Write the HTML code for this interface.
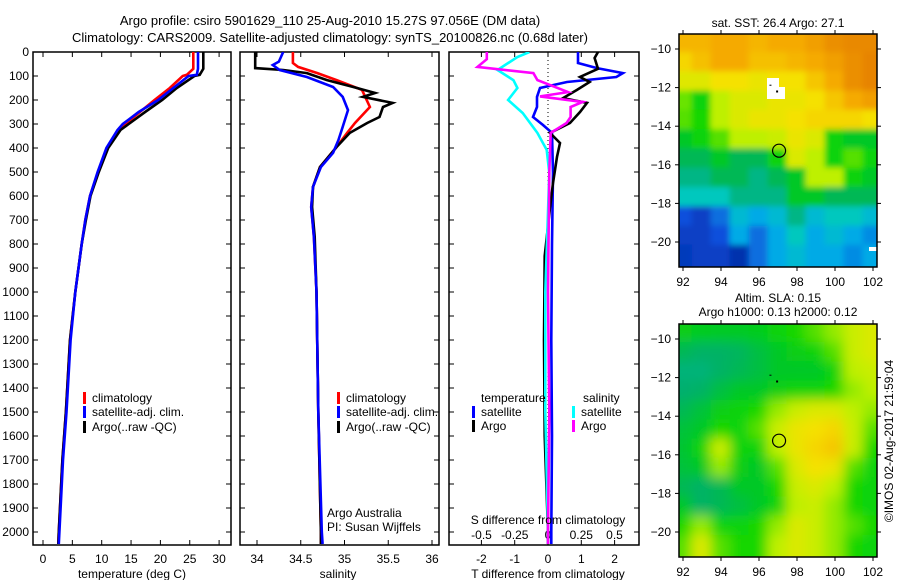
<!DOCTYPE html>
<html><head><meta charset="utf-8"><style>
html,body{margin:0;padding:0;background:#fff}
svg{display:block;font-family:"Liberation Sans",Arial,sans-serif;font-size:12px}
</style></head><body>
<svg id="c" width="900" height="580" viewBox="0 0 900 580">
<defs>
<clipPath id="cp1"><rect x="33" y="52" width="198" height="493"/></clipPath>
<clipPath id="cp2"><rect x="240" y="52" width="199" height="493"/></clipPath>
<clipPath id="cp3"><rect x="449" y="52" width="190" height="493"/></clipPath>
<clipPath id="cm1"><rect x="679" y="34" width="198" height="233"/></clipPath>
<clipPath id="cm2"><rect x="679" y="324" width="198" height="233"/></clipPath>
<filter id="blur"><feGaussianBlur stdDeviation="6"/></filter>
<filter id="blur1"><feGaussianBlur stdDeviation="3"/></filter>
</defs>
<text x="330" y="25" text-anchor="middle" font-size="13">Argo profile: csiro 5901629_110 25-Aug-2010 15.27S 97.056E (DM data)</text>
<text x="330" y="42" text-anchor="middle" font-size="13">Climatology: CARS2009. Satellite-adjusted climatology: synTS_20100826.nc (0.68d later)</text>
<g id="g"></g>
</svg>
<script>
// ---------- profile data ----------
const depthTicks = [0,100,200,300,400,500,600,700,800,900,1000,1100,1200,1300,1400,1500,1600,1700,1800,1900,2000];
const tempTicks = [0,5,10,15,20,25,30];
const salTicks = [34,34.5,35,35.5,36];
const salTickLabels = ["34","34.5","35","35.5","36"];
const dTTicks = [-2,-1,0,1,2];
const dSTicks = [-0.5,-0.25,0,0.25,0.5];
const dSTickLabels = ["-0.5","-0.25","0","0.25","0.5"];

const tDepth = [0,70,95,100,150,200,250,300,325,400,500,600,700,800,1000,1200,1500,1700,2000,2050];
const tClim = [25.6,25.6,24.5,23.8,21.6,19,16.5,14,12.8,10.9,9.4,8,7.2,6.6,5.5,4.6,3.9,3.3,2.7,2.6];
const tSat = [26.4,26.4,26.2,24.8,22.2,19.6,16.3,13.6,12.7,10.8,9.3,8,7.2,6.6,5.5,4.7,4,3.4,2.8,2.7];
const tArgo = [27.3,27.3,26.7,25.8,22.8,20.3,17.4,14.6,13.2,11.1,9.5,8.1,7.3,6.6,5.5,4.6,3.9,3.3,2.7,2.6];

const sArgoDepth = [0,67,75,88,117,146,171,187,212,229,271,296,337,396,479,562,646,771,1000,1500,2000,2050];
const sArgo = [33.98,33.98,34.30,34.57,34.80,35.10,35.35,35.21,35.55,35.44,35.40,35.26,35.06,34.91,34.72,34.64,34.63,34.66,34.68,34.70,34.73,34.73];
const sClimDepth = [0,46,62,88,117,158,229,296,337,396,479,562,646,771,1000,1500,2000,2050];
const sClim = [34.41,34.41,34.47,34.69,34.91,35.2,35.29,35.12,35.03,34.91,34.72,34.64,34.62,34.65,34.68,34.70,34.73,34.73];
const sSatDepth = [0,40,54,75,104,146,187,242,312,367,420,479,562,646,771,1000,1500,2000,2050];
const sSat = [34.3,34.25,34.18,34.26,34.57,34.87,34.98,35.04,34.98,34.93,34.87,34.73,34.64,34.62,34.65,34.68,34.70,34.74,34.75];

const dTSatDepth = [0,46,67,88,104,125,150,187,229,271,304,337,504,800,1200,1600,2000,2050];
const dTSat = [0.9,0.9,1.47,2.25,2.05,0.57,-0.24,-0.33,-0.33,-0.45,-0.15,0.12,0.15,0.12,0.1,0.12,0.1,0.1];
const dTArgoDepth = [0,25,70,104,125,158,192,212,250,296,337,379,437,546,650,850,1200,1600,2000,2050];
const dTArgo = [1.5,1.4,1.5,0.96,1.25,0.87,0.45,1.17,0.96,0.66,0.06,0.36,0.27,0.15,0.06,-0.1,-0.12,-0.1,0,0];
const dSArgoDepth = [0,30,62,88,117,167,185,208,229,271,296,337,500,1000,1500,2000,2050];
const dSArgo = [-0.46,-0.46,-0.53,-0.11,-0.08,0.15,-0.06,0.26,0.17,0.17,0.14,0.02,0.01,0,0.01,0,0];
const dSSatDepth = [0,21,75,117,150,200,254,337,408,504,1000,1500,2000,2050];
const dSSat = [-0.14,-0.23,-0.38,-0.26,-0.23,-0.3,-0.19,-0.08,-0.01,0.01,-0.02,-0.02,0,0];

// ---------- map data (rows north->south, cols 92..102 lon) ----------
const mapLons = [92,93,94,95,96,97,98,99,100,101,102];
const mapLats = [-9.7,-10.7,-11.7,-12.7,-13.7,-14.7,-15.7,-16.7,-17.7,-18.7,-19.7,-20.7];
const sstGrid = [
[.88,.88,.9,.9,.88,.9,.9,.92,.95,.96,.96],
[.82,.86,.9,.9,.86,.86,.88,.9,.92,.95,.97],
[.76,.76,.8,.8,.78,.8,.8,.85,.9,.95,.97],
[.66,.6,.7,.75,.75,.78,.78,.8,.85,.9,.92],
[.65,.62,.7,.75,.78,.78,.8,.82,.82,.82,.8],
[.55,.6,.65,.7,.7,.72,.78,.75,.6,.55,.55],
[.5,.5,.55,.5,.5,.6,.75,.7,.6,.65,.6],
[.45,.45,.5,.5,.45,.5,.55,.7,.7,.6,.55],
[.4,.4,.4,.45,.45,.45,.55,.55,.5,.5,.5],
[.15,.1,.2,.35,.3,.35,.45,.35,.4,.4,.35],
[.1,.1,.15,.3,.2,.3,.4,.3,.35,.3,.25],
[.08,.1,.1,.05,.2,.3,.35,.3,.3,.25,.3]];
const slaGrid = [
[.58,.57,.56,.56,.57,.6,.62,.65,.68,.72,.75],
[.5,.48,.48,.49,.52,.55,.58,.6,.65,.72,.75],
[.46,.46,.48,.5,.52,.55,.55,.55,.6,.7,.72],
[.47,.48,.52,.55,.55,.58,.6,.6,.62,.68,.7],
[.5,.53,.58,.6,.62,.68,.72,.75,.75,.7,.68],
[.53,.55,.62,.6,.65,.72,.78,.8,.82,.72,.65],
[.54,.6,.72,.6,.6,.7,.78,.82,.85,.72,.62],
[.53,.55,.68,.58,.55,.65,.75,.8,.78,.65,.6],
[.5,.48,.5,.55,.55,.62,.72,.75,.7,.62,.6],
[.55,.48,.5,.52,.55,.6,.7,.72,.68,.62,.6],
[.62,.68,.6,.6,.62,.68,.75,.72,.68,.65,.62],
[.65,.75,.65,.62,.62,.7,.75,.72,.68,.62,.6]];
const lonTicks = [92,94,96,98,100,102];
const latTicks = [-10,-12,-14,-16,-18,-20];
const argoLon = 97.056, argoLat = -15.27;

const NS = "http://www.w3.org/2000/svg";
const g = document.getElementById('g');
function el(tag, attrs, parent) {
  const e = document.createElementNS(NS, tag);
  for (const k in attrs) e.setAttribute(k, attrs[k]);
  (parent || g).appendChild(e);
  return e;
}
function txt(x, y, s, anchor, parent) {
  const t = el('text', {x: x, y: y, 'text-anchor': anchor || 'middle'}, parent);
  t.textContent = s;
  return t;
}

const top0 = 52, bot0 = 545;
const yD = d => top0 + d * 0.24;
const xT = t => 43 + t * 5.87;
const xS = s => 257 + (s - 34) * 87.5;
const xdT = v => 548 + v * 33.3;
const xdS = v => 548 + v * 133;

function panelBox(x0, x1, name) {
  const r = el('rect', {x: x0, y: top0, width: x1 - x0, height: bot0 - top0, fill: 'none', stroke: '#000', 'stroke-width': 1.5});
  
  
  depthTicks.forEach(d => {
    el('line', {x1: x0, x2: x0 + 5, y1: yD(d), y2: yD(d), stroke: '#000'});
    el('line', {x1: x1, x2: x1 - 5, y1: yD(d), y2: yD(d), stroke: '#000'});
  });
}
function series(depths, vals, xf, color, clip, name) {
  const pts = depths.map((d, i) => xf(vals[i]).toFixed(1) + ',' + yD(d).toFixed(1)).join(' ');
  const p = el('polyline', {points: pts, fill: 'none', stroke: color, 'stroke-width': 2.6, 'stroke-linejoin': 'miter', 'clip-path': 'url(#' + clip + ')'});
  
  
}
function legendEntry(x, y, color, label, name) {
  const gg = el('g', {});
  
  
  el('rect', {x: x, y: y - 10, width: 3, height: 12, fill: color}, gg);
  txt(x + 9, y, label, 'start', gg);
}

// Panel 1 - temperature
panelBox(33, 231, 'temperature-panel');
depthTicks.forEach(d => {
  const t = txt(29, yD(d) + 4, String(d), 'end');
  
  
});
tempTicks.forEach(v => {
  el('line', {x1: xT(v), x2: xT(v), y1: bot0, y2: bot0 - 5, stroke: '#000'});
  el('line', {x1: xT(v), x2: xT(v), y1: top0, y2: top0 + 5, stroke: '#000'});
  const t = txt(xT(v), 563, String(v));
  
  
});
const xt1 = txt(132, 578, 'temperature (deg C)');


series(tDepth, tClim, xT, '#f00', 'cp1', 'temp-climatology-line');
series(tDepth, tArgo, xT, '#000', 'cp1', 'temp-argo-line');
series(tDepth, tSat, xT, '#00f', 'cp1', 'temp-satellite-line');
legendEntry(83, 402, '#f00', 'climatology', 'legend-climatology');
legendEntry(83, 416, '#00f', 'satellite-adj. clim.', 'legend-satellite-adj');
legendEntry(83, 431, '#000', 'Argo(..raw -QC)', 'legend-argo');

// Panel 2 - salinity
panelBox(240, 439, 'salinity-panel');
salTicks.forEach((v, i) => {
  el('line', {x1: xS(v), x2: xS(v), y1: bot0, y2: bot0 - 5, stroke: '#000'});
  el('line', {x1: xS(v), x2: xS(v), y1: top0, y2: top0 + 5, stroke: '#000'});
  const t = txt(xS(v), 563, salTickLabels[i]);
  
  
});
const xt2 = txt(338, 578, 'salinity');


series(sClimDepth, sClim, xS, '#f00', 'cp2', 'sal-climatology-line');
series(sArgoDepth, sArgo, xS, '#000', 'cp2', 'sal-argo-line');
series(sSatDepth, sSat, xS, '#00f', 'cp2', 'sal-satellite-line');
legendEntry(337, 402, '#f00', 'climatology', 'legend-climatology-2');
legendEntry(337, 416, '#00f', 'satellite-adj. clim.', 'legend-satellite-adj-2');
legendEntry(337, 431, '#000', 'Argo(..raw -QC)', 'legend-argo-2');
const ga = txt(327, 517, 'Argo Australia', 'start');


const gp = txt(327, 531, 'PI: Susan Wijffels', 'start');



// Panel 3 - differences
panelBox(449, 639, 'difference-panel');
el('line', {x1: 548, x2: 548, y1: top0, y2: bot0, stroke: '#000', 'stroke-width': 1, 'stroke-dasharray': '1,3'});
dTTicks.forEach(v => {
  el('line', {x1: xdT(v), x2: xdT(v), y1: bot0, y2: bot0 - 5, stroke: '#000'});
  el('line', {x1: xdT(v), x2: xdT(v), y1: top0, y2: top0 + 5, stroke: '#000'});
  const t = txt(xdT(v), 563, String(v));
  
  
});
dSTicks.forEach((v, i) => {
  const t = txt(xdS(v), 539, dSTickLabels[i]);
  
  
});
series(dTSatDepth, dTSat, xdT, '#00f', 'cp3', 'tdiff-satellite-line');
series(dTArgoDepth, dTArgo, xdT, '#000', 'cp3', 'tdiff-argo-line');
series(dSSatDepth, dSSat, xdS, '#0ff', 'cp3', 'sdiff-satellite-line');
series(dSArgoDepth, dSArgo, xdS, '#f0f', 'cp3', 'sdiff-argo-line');
const st = txt(548, 524, 'S difference from climatology');


const tt = txt(548, 578, 'T difference from climatology');


const lt = txt(481, 402, 'temperature', 'start');


const ls = txt(583, 402, 'salinity', 'start');


legendEntry(472, 416, '#00f', 'satellite', 'legend-t-satellite');
legendEntry(472, 430, '#000', 'Argo', 'legend-t-argo');
legendEntry(572, 416, '#0ff', 'satellite', 'legend-s-satellite');
legendEntry(572, 430, '#f0f', 'Argo', 'legend-s-argo');

// ---------- maps ----------
const cmapStops = [[0,[0,32,150]],[0.15,[10,80,220]],[0.3,[0,170,230]],[0.4,[0,200,190]],[0.47,[0,175,110]],[0.55,[0,200,40]],[0.62,[20,215,0]],[0.7,[190,240,0]],[0.8,[245,225,0]],[0.9,[245,170,0]],[1,[225,115,0]]];
function cmap(v) {
  for (let i = 1; i < cmapStops.length; i++) {
    if (v <= cmapStops[i][0]) {
      const [a, ca] = cmapStops[i-1], [b, cb] = cmapStops[i];
      const f = (v - a) / (b - a);
      return 'rgb(' + ca.map((c, k) => Math.round(c + (cb[k]-c)*f)).join(',') + ')';
    }
  }
  return 'rgb(225,115,0)';
}
function drawMap(y0, grid, clip, blur, name) {
  const xL = lon => 683 + (lon - 92) * 19;
  const yL = lat => y0 + 15 + (-10 - lat) * 19.3;
  const mg = el('g', {'clip-path': 'url(#' + clip + ')'});
  
  
  const inner = el('g', {filter: 'url(#' + blur + ')'}, mg);
  const nr = grid.length, nc = grid[0].length;
  grid.forEach((row, r) => row.forEach((v, c) => {
    let x = xL(mapLons[c] - 0.55), y = yL(mapLats[r] + 0.55);
    let w = 19 * 1.1 + 1, h = 19.3 * 1.1 + 1;
    if (c === 0) { x -= 30; w += 30; }
    if (c === nc - 1) { w += 30; }
    if (r === 0) { y -= 30; h += 30; }
    if (r === nr - 1) { h += 30; }
    const cell = el('rect', {x: x, y: y, width: w, height: h, fill: cmap(v)}, inner);
    
  }));
  return {xL, yL, mg};
}
function mapFrame(y0, xL, yL, name) {
  const r = el('rect', {x: 679, y: y0, width: 198, height: 233, fill: 'none', stroke: '#000', 'stroke-width': 1.5});
  
  
  lonTicks.forEach(v => {
    el('line', {x1: xL(v), x2: xL(v), y1: y0, y2: y0 - 4, stroke: '#000'});
    el('line', {x1: xL(v), x2: xL(v), y1: y0 + 233, y2: y0 + 237, stroke: '#000'});
    const t = txt(xL(v), y0 + 252, String(v));
    
    
  });
  latTicks.forEach(v => {
    el('line', {x1: 679, x2: 675, y1: yL(v), y2: yL(v), stroke: '#000'});
    el('line', {x1: 877, x2: 881, y1: yL(v), y2: yL(v), stroke: '#000'});
    const t = txt(671, yL(v) + 4, String(v).replace('-', '\u2212'), 'end');
    
    
  });
  const c = el('circle', {cx: xL(argoLon), cy: yL(argoLat), r: 6.5, fill: 'none', stroke: '#000', 'stroke-width': 1.2});
  
  
  el('rect', {x: xL(96.9), y: yL(-12.15), width: 2, height: 2, fill: '#000'});
  el('rect', {x: xL(96.55), y: yL(-11.85), width: 2, height: 1, fill: '#000'});
}
const m1 = drawMap(34, sstGrid, 'cm1', 'blur1', 'sst-map');
el('path', {d: 'M767,78 h12 v9 h6 v12 h-18 z', fill: '#fff'}, m1.mg);
el('rect', {x: 869, y: 247, width: 8, height: 4, fill: '#fff'}, m1.mg);
mapFrame(34, m1.xL, m1.yL, 'sst-map-frame');
const mt1 = txt(778, 27, 'sat. SST: 26.4 Argo: 27.1');



const m2 = drawMap(324, slaGrid, 'cm2', 'blur', 'sla-map');
mapFrame(324, m2.xL, m2.yL, 'sla-map-frame');
const mt2 = txt(778, 302, 'Altim. SLA: 0.15');


const mt3 = txt(778, 316, 'Argo h1000: 0.13 h2000: 0.12');


const ts = txt(0, 0, '\u00A9IMOS 02-Aug-2017 21:59:04');
ts.setAttribute('transform', 'translate(893,441) rotate(-90)');


</script>
</body></html>
